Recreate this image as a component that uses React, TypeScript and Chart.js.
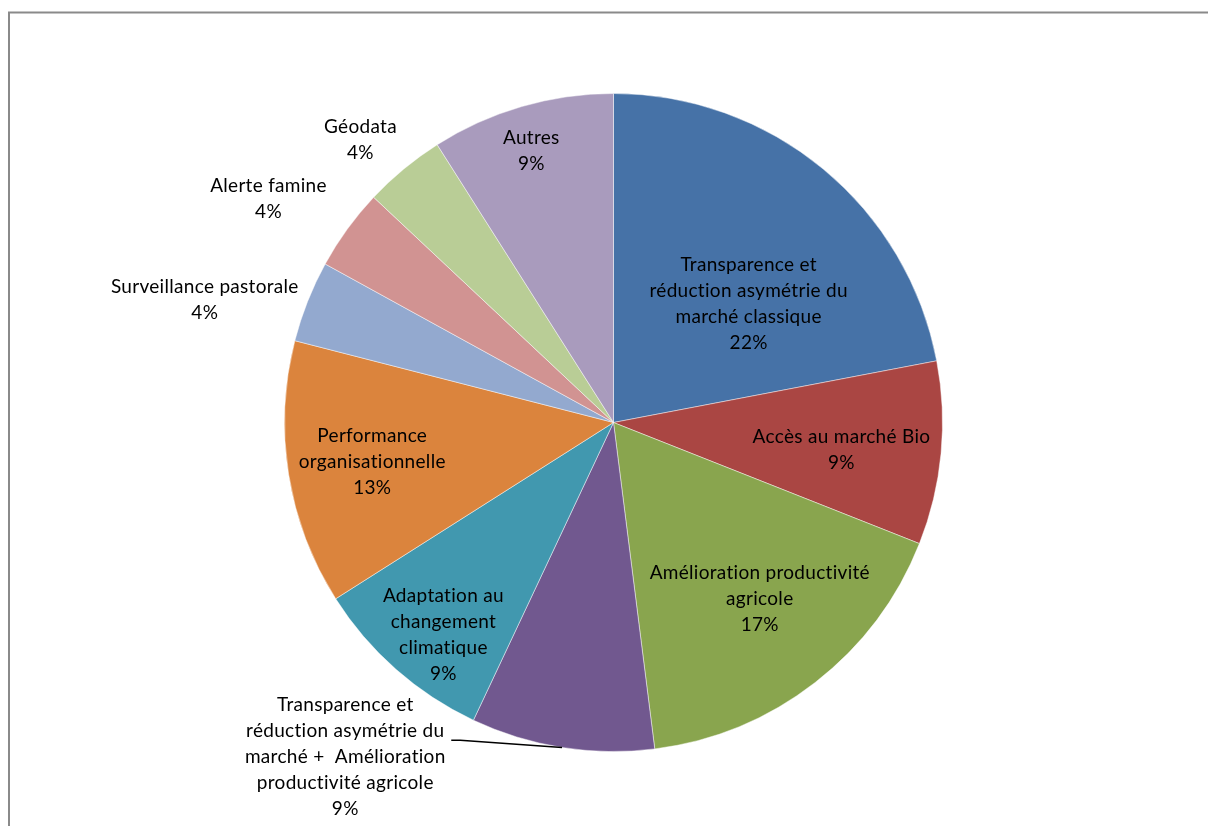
import React, { useEffect, useRef } from "react";
import { Chart, registerables } from "chart.js";

Chart.register(...registerables);

const categories: string[][] = [
  ["Transparence et", "réduction asymétrie du", "marché classique"],
  ["Accès au marché Bio"],
  ["Amélioration productivité", "agricole"],
  ["Transparence et", "réduction asymétrie du", "marché +  Amélioration", "productivité agricole"],
  ["Adaptation au", "changement", "climatique"],
  ["Performance", "organisationnelle"],
  ["Surveillance pastorale"],
  ["Alerte famine"],
  ["Géodata"],
  ["Autres"],
];

const values: number[] = [22, 9, 17, 9, 9, 13, 4, 4, 4, 9];

const colors: string[] = [
  "#4672A7", "#AA4643", "#89A54E", "#71588F", "#4198AF",
  "#DB843D", "#93A9CF", "#D19392", "#B9CD96", "#A99BBD",
];

// label placement: [angle (deg clockwise from top), distance as fraction of radius]
const labelAngles: number[] = [48.8, 96.9, 140.3, 218.7, 218.7, 260.7, 286.7, 302.9, 318.2, 343.2];
const labelRadii: number[] = [0.546, 0.698, 0.696, 1.304, 0.827, 0.743, 1.297, 1.249, 1.154, 0.864];

const FONT = "Lato, 'Open Sans', sans-serif";
const FONT_SIZE = 19;
const LINE_H = 26;

const labelPlugin = {
  id: "pieLabels",
  beforeDraw(chart: any) {
    const ctx = chart.ctx;
    ctx.save();
    ctx.strokeStyle = "#8a8a8a";
    ctx.lineWidth = 2;
    ctx.beginPath();
    ctx.moveTo(9, chart.height);
    ctx.lineTo(9, 12.5);
    ctx.lineTo(chart.width, 12.5);
    ctx.stroke();
    ctx.restore();
  },
  afterDraw(chart: any) {
    const ctx = chart.ctx;
    const meta = chart.getDatasetMeta(0);
    ctx.save();
    ctx.font = `${FONT_SIZE}px ${FONT}`;
    try { (ctx as any).letterSpacing = "0.3px"; } catch (e) { /* ignore */ }
    ctx.fillStyle = "#000";
    ctx.textAlign = "center";
    ctx.textBaseline = "middle";
    meta.data.forEach((arc: any, i: number) => {
      const { x, y, outerRadius, startAngle, endAngle } = arc.getProps(
        ["x", "y", "outerRadius", "startAngle", "endAngle"], true);
      const a = (labelAngles[i] - 90) * Math.PI / 180;
      const r = labelRadii[i] * outerRadius;
      const cx = x + Math.cos(a) * r;
      const cy = y + Math.sin(a) * r;
      const lines = [...categories[i], `${values[i]}%`];
      const top = cy - ((lines.length - 1) * LINE_H) / 2;
      lines.forEach((t, k) => ctx.fillText(t, cx, top + k * LINE_H));
      if (labelRadii[i] > 1 && i === 3) {
        const mid = (startAngle + endAngle) / 2;
        const ex = x + Math.cos(mid) * outerRadius;
        const ey = y + Math.sin(mid) * outerRadius;
        const ly = top + LINE_H + 9;
        ctx.strokeStyle = "#000";
        ctx.lineWidth = 1.5;
        ctx.beginPath();
        ctx.moveTo(ex, ey);
        ctx.lineTo(cx + 115, ly);
        ctx.lineTo(cx + 106, ly);
        ctx.stroke();
      }
    });
    ctx.restore();
  },
};

export default function App() {
  const ref = useRef<HTMLCanvasElement | null>(null);
  useEffect(() => {
    document.body.style.margin = "0";
    const chart = new Chart(ref.current as HTMLCanvasElement, {
      type: "pie",
      data: {
        labels: categories.map((c) => c.join(" ")),
        datasets: [
          {
            data: values,
            backgroundColor: colors,
            borderColor: "rgba(255,255,255,0.45)",
            borderWidth: 1,
          },
        ],
      },
      options: {
        responsive: false,
        animation: false,
        layout: { padding: { left: 284, right: 265, top: 93, bottom: 74 } },
        plugins: { legend: { display: false }, tooltip: { enabled: false } },
      },
      plugins: [labelPlugin],
    });
    return () => chart.destroy();
  }, []);
  return (
    <div style={{ width: 1208, height: 826, background: "#fff" }}>
      <canvas ref={ref} width={1208} height={826} style={{ width: 1208, height: 826, display: "block" }} />
    </div>
  );
}
